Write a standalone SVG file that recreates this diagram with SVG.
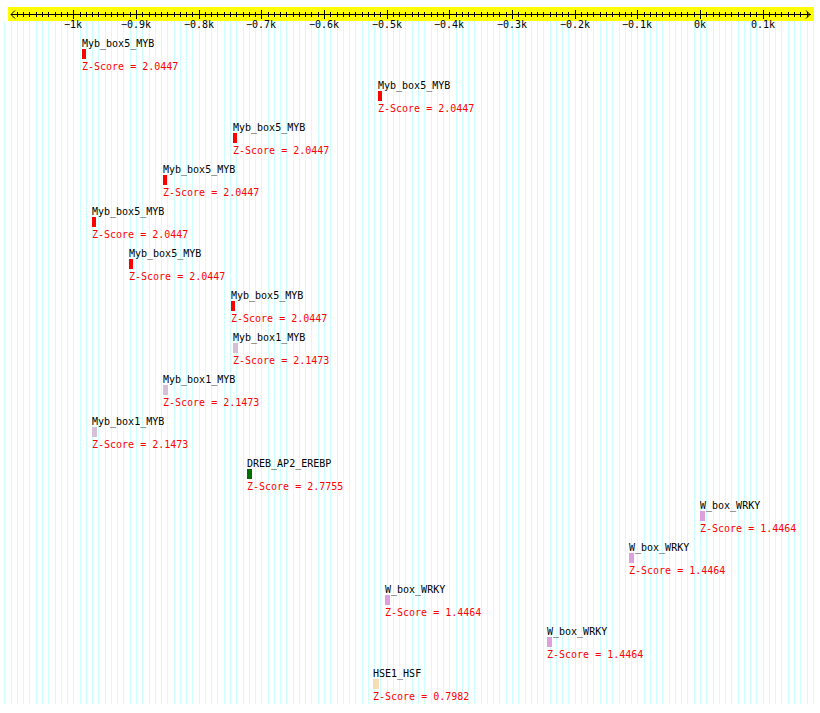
<svg xmlns="http://www.w3.org/2000/svg" width="820" height="713" viewBox="0 0 820 713">
<style>
text{font-family:"DejaVu Sans Mono","Liberation Mono",monospace;font-size:10px}
.lab{fill:#000}
.z{fill:#ff0000}
.ax{fill:#000;text-anchor:middle}
.b5{fill:#ff0000}
.b1{fill:#d8bfd8}
.bd{fill:#006e00}
.bw{fill:#dda0dd}
.bh{fill:#f5deb3}
</style>
<rect width="820" height="713" fill="#ffffff"/>
<g id="grid" stroke="#ccffff" stroke-width="1">
<path d="M4.5 21V704M11.5 21V704M17.5 21V704M23.5 21V704M29.5 21V704M36.5 21V704M42.5 21V704M48.5 21V704M55.5 21V704M61.5 21V704M67.5 21V704M73.5 21V704M80.5 21V704M86.5 21V704M92.5 21V704M98.5 21V704M105.5 21V704M111.5 21V704M117.5 21V704M123.5 21V704M130.5 21V704M136.5 21V704M142.5 21V704M149.5 21V704M155.5 21V704M161.5 21V704M167.5 21V704M174.5 21V704M180.5 21V704M186.5 21V704M192.5 21V704M199.5 21V704M205.5 21V704M211.5 21V704M217.5 21V704M224.5 21V704M230.5 21V704M236.5 21V704M243.5 21V704M249.5 21V704M255.5 21V704M261.5 21V704M268.5 21V704M274.5 21V704M280.5 21V704M286.5 21V704M293.5 21V704M299.5 21V704M305.5 21V704M311.5 21V704M318.5 21V704M324.5 21V704M330.5 21V704M337.5 21V704M343.5 21V704M349.5 21V704M355.5 21V704M362.5 21V704M368.5 21V704M374.5 21V704M380.5 21V704M387.5 21V704M393.5 21V704M399.5 21V704M405.5 21V704M412.5 21V704M418.5 21V704M424.5 21V704M431.5 21V704M437.5 21V704M443.5 21V704M449.5 21V704M456.5 21V704M462.5 21V704M468.5 21V704M474.5 21V704M481.5 21V704M487.5 21V704M493.5 21V704M499.5 21V704M506.5 21V704M512.5 21V704M518.5 21V704M525.5 21V704M531.5 21V704M537.5 21V704M543.5 21V704M550.5 21V704M556.5 21V704M562.5 21V704M568.5 21V704M575.5 21V704M581.5 21V704M587.5 21V704M593.5 21V704M600.5 21V704M606.5 21V704M612.5 21V704M619.5 21V704M625.5 21V704M631.5 21V704M637.5 21V704M644.5 21V704M650.5 21V704M656.5 21V704M662.5 21V704M669.5 21V704M675.5 21V704M681.5 21V704M687.5 21V704M694.5 21V704M700.5 21V704M706.5 21V704M713.5 21V704M719.5 21V704M725.5 21V704M731.5 21V704M738.5 21V704M744.5 21V704M750.5 21V704M756.5 21V704M763.5 21V704M769.5 21V704M775.5 21V704M781.5 21V704M788.5 21V704M794.5 21V704M800.5 21V704M807.5 21V704M813.5 21V704"/>
</g>
<g id="axis">
<rect x="8" y="7" width="806" height="14" fill="#ffff00"/>
<g stroke="#000" stroke-width="1" fill="none">
<path d="M11 14.5H811"/>
<path d="M15 10.5L11 14.5L15 18.5M806 10.5L810 14.5L806 18.5"/>
<path d="M17.5 12V17M23.5 12V17M29.5 12V17M36.5 12V17M42.5 12V17M48.5 12V17M55.5 12V17M61.5 12V17M67.5 12V17M80.5 12V17M86.5 12V17M92.5 12V17M98.5 12V17M105.5 12V17M111.5 12V17M117.5 12V17M123.5 12V17M130.5 12V17M142.5 12V17M149.5 12V17M155.5 12V17M161.5 12V17M167.5 12V17M174.5 12V17M180.5 12V17M186.5 12V17M192.5 12V17M205.5 12V17M211.5 12V17M217.5 12V17M224.5 12V17M230.5 12V17M236.5 12V17M243.5 12V17M249.5 12V17M255.5 12V17M268.5 12V17M274.5 12V17M280.5 12V17M286.5 12V17M293.5 12V17M299.5 12V17M305.5 12V17M311.5 12V17M318.5 12V17M330.5 12V17M337.5 12V17M343.5 12V17M349.5 12V17M355.5 12V17M362.5 12V17M368.5 12V17M374.5 12V17M380.5 12V17M393.5 12V17M399.5 12V17M405.5 12V17M412.5 12V17M418.5 12V17M424.5 12V17M431.5 12V17M437.5 12V17M443.5 12V17M456.5 12V17M462.5 12V17M468.5 12V17M474.5 12V17M481.5 12V17M487.5 12V17M493.5 12V17M499.5 12V17M506.5 12V17M518.5 12V17M525.5 12V17M531.5 12V17M537.5 12V17M543.5 12V17M550.5 12V17M556.5 12V17M562.5 12V17M568.5 12V17M581.5 12V17M587.5 12V17M593.5 12V17M600.5 12V17M606.5 12V17M612.5 12V17M619.5 12V17M625.5 12V17M631.5 12V17M644.5 12V17M650.5 12V17M656.5 12V17M662.5 12V17M669.5 12V17M675.5 12V17M681.5 12V17M687.5 12V17M694.5 12V17M706.5 12V17M713.5 12V17M719.5 12V17M725.5 12V17M731.5 12V17M738.5 12V17M744.5 12V17M750.5 12V17M756.5 12V17M769.5 12V17M775.5 12V17M781.5 12V17M788.5 12V17M794.5 12V17M800.5 12V17M807.5 12V17"/>
<path d="M73.5 10V19M136.5 10V19M199.5 10V19M261.5 10V19M324.5 10V19M387.5 10V19M449.5 10V19M512.5 10V19M575.5 10V19M637.5 10V19M700.5 10V19M763.5 10V19"/>
</g>
<text class="ax" x="73" y="28">−1k</text>
<text class="ax" x="136" y="28">−0.9k</text>
<text class="ax" x="199" y="28">−0.8k</text>
<text class="ax" x="261" y="28">−0.7k</text>
<text class="ax" x="324" y="28">−0.6k</text>
<text class="ax" x="387" y="28">−0.5k</text>
<text class="ax" x="449" y="28">−0.4k</text>
<text class="ax" x="512" y="28">−0.3k</text>
<text class="ax" x="575" y="28">−0.2k</text>
<text class="ax" x="637" y="28">−0.1k</text>
<text class="ax" x="700" y="28">0k</text>
<text class="ax" x="763" y="28">0.1k</text>
</g>
<g id="connectors"/>
<g id="m1"><text class="lab" x="82" y="47">Myb_box5_MYB</text><rect class="b5" x="82" y="49" width="4" height="10"/><text class="z" x="82" y="70">Z-Score = 2.0447</text></g>
<g id="m2"><text class="lab" x="378" y="89">Myb_box5_MYB</text><rect class="b5" x="378" y="91" width="4" height="10"/><text class="z" x="378" y="112">Z-Score = 2.0447</text></g>
<g id="m3"><text class="lab" x="233" y="131">Myb_box5_MYB</text><rect class="b5" x="233" y="133" width="4" height="10"/><text class="z" x="233" y="154">Z-Score = 2.0447</text></g>
<g id="m4"><text class="lab" x="163" y="173">Myb_box5_MYB</text><rect class="b5" x="163" y="175" width="4" height="10"/><text class="z" x="163" y="196">Z-Score = 2.0447</text></g>
<g id="m5"><text class="lab" x="92" y="215">Myb_box5_MYB</text><rect class="b5" x="92" y="217" width="4" height="10"/><text class="z" x="92" y="238">Z-Score = 2.0447</text></g>
<g id="m6"><text class="lab" x="129" y="257">Myb_box5_MYB</text><rect class="b5" x="129" y="259" width="4" height="10"/><text class="z" x="129" y="280">Z-Score = 2.0447</text></g>
<g id="m7"><text class="lab" x="231" y="299">Myb_box5_MYB</text><rect class="b5" x="231" y="301" width="4" height="10"/><text class="z" x="231" y="322">Z-Score = 2.0447</text></g>
<g id="m8"><text class="lab" x="233" y="341">Myb_box1_MYB</text><rect class="b1" x="233" y="343" width="5" height="10"/><text class="z" x="233" y="364">Z-Score = 2.1473</text></g>
<g id="m9"><text class="lab" x="163" y="383">Myb_box1_MYB</text><rect class="b1" x="163" y="385" width="5" height="10"/><text class="z" x="163" y="406">Z-Score = 2.1473</text></g>
<g id="m10"><text class="lab" x="92" y="425">Myb_box1_MYB</text><rect class="b1" x="92" y="427" width="5" height="10"/><text class="z" x="92" y="448">Z-Score = 2.1473</text></g>
<g id="m11"><text class="lab" x="247" y="467">DREB_AP2_EREBP</text><rect class="bd" x="247" y="469" width="5" height="10"/><text class="z" x="247" y="490">Z-Score = 2.7755</text></g>
<g id="m12"><text class="lab" x="700" y="509">W_box_WRKY</text><rect class="bw" x="700" y="511" width="5" height="10"/><text class="z" x="700" y="532">Z-Score = 1.4464</text></g>
<g id="m13"><text class="lab" x="629" y="551">W_box_WRKY</text><rect class="bw" x="629" y="553" width="5" height="10"/><text class="z" x="629" y="574">Z-Score = 1.4464</text></g>
<g id="m14"><text class="lab" x="385" y="593">W_box_WRKY</text><rect class="bw" x="385" y="595" width="5" height="10"/><text class="z" x="385" y="616">Z-Score = 1.4464</text></g>
<g id="m15"><text class="lab" x="547" y="635">W_box_WRKY</text><rect class="bw" x="547" y="637" width="5" height="10"/><text class="z" x="547" y="658">Z-Score = 1.4464</text></g>
<g id="m16"><text class="lab" x="373" y="677">HSE1_HSF</text><rect class="bh" x="373" y="679" width="6" height="10"/><text class="z" x="373" y="700">Z-Score = 0.7982</text></g>
</svg>
